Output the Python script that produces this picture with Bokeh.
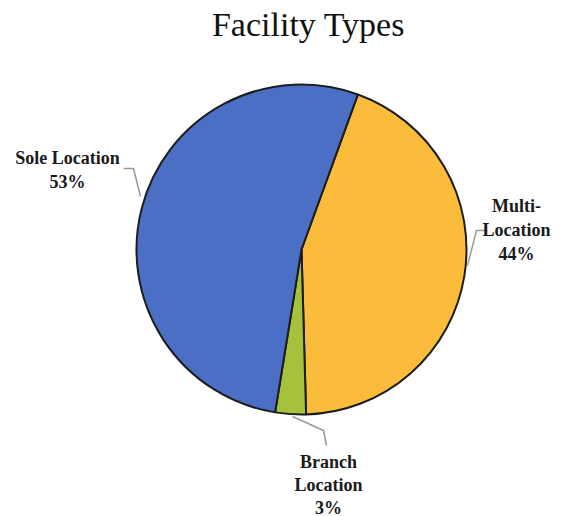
import math
from bokeh.plotting import figure
from bokeh.models import Range1d, ColumnDataSource
from bokeh.core.properties import value
from bokeh.embed import file_html
from bokeh.resources import INLINE

# ---- data ----
categories = ["Multi-Location", "Branch Location", "Sole Location"]
percents = [44, 3, 53]
label_lines = [["Multi-", "Location", "44%"], ["Branch", "Location", "3%"], ["Sole Location", "53%"]]
colors = ["#fcbc3b", "#a6c23c", "#4c6fc6"]
title_text = "Facility Types"

# ---- layout (screen pixels) ----
W, H = 563, 516
CX, CY, R = 301, 249, 165     # pie centre/radius in screen px
START_DEG = 20                 # first slice boundary, clockwise from 12 o'clock

def dx(px):
    return (px - CX) / R

def dy(py):
    return (CY - py) / R

p = figure(width=W, height=H, output_backend="svg", toolbar_location=None,
           x_range=Range1d(dx(0), dx(W)), y_range=Range1d(dy(H), dy(0)),
           min_border=0)
p.axis.visible = False
p.grid.visible = False
p.outline_line_color = None
p.background_fill_color = "white"

total = sum(percents)
starts, ends = [], []
cum = 0.0
for v in percents:
    a0 = math.radians(90 - START_DEG) - cum / total * 2 * math.pi
    cum += v
    a1 = math.radians(90 - START_DEG) - cum / total * 2 * math.pi
    starts.append(a0)
    ends.append(a1)

src = ColumnDataSource(dict(cat=categories, val=percents, start=starts, end=ends, color=colors))
p.wedge(x=0, y=0, radius=1.0, start_angle="start", end_angle="end", direction="clock",
        fill_color="color", line_color="#1c1c1c", line_width=2, source=src)

# leader lines (screen px)
leaders = [
    ([467, 476, 487], [265, 230, 230]),
    ([292, 323, 326], [416, 430, 445]),
    ([123, 133, 140], [168, 168, 196]),
]
for xs, ys in leaders:
    p.line([dx(x) for x in xs], [dy(y) for y in ys], line_color="#9a9a9a", line_width=1.5)

# labels: centre x and first-line y in screen px, line spacing
label_pos = [(516, 205), (328, 461), (67, 157)]
spacing = [24, 23, 24]
for lines, (lx, ly), sp in zip(label_lines, label_pos, spacing):
    ys = [dy(ly + i * sp) for i in range(len(lines))]
    p.text(x=[dx(lx)] * len(lines), y=ys, text=lines, text_align="center",
           text_baseline="middle", text_font=value("Liberation Serif"),
           text_font_style="bold", text_font_size="18px", text_color="#1a1a1a")

p.text(x=[dx(308)], y=[dy(24)], text=[title_text], text_align="center",
       text_baseline="middle", text_font=value("Liberation Serif"),
       text_font_size="34px", text_color="#111111")

open("out.html", "w").write(file_html(p, INLINE))
